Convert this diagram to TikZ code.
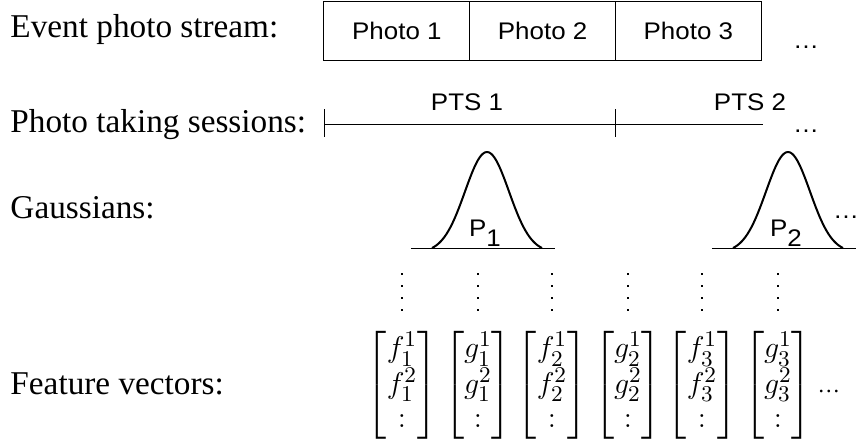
\documentclass[tikz,border=0pt]{standalone}
\usepackage{amsmath}
\usepackage[no-math]{fontspec}
\setmainfont{Liberation Serif}
\newfontfamily\boxfont[FakeStretch=1.08]{Liberation Sans}
\usetikzlibrary{positioning}

\tikzset{
  rowname/.style={anchor=base west, inner sep=0pt, font=\fontsize{13.3}{16}\selectfont},
  sanstext/.style={inner sep=0pt, font=\fontsize{9.6}{11}\boxfont},
  photobox/.style={draw, sanstext, outer sep=0pt, minimum width=58.3pt, minimum height=23.6pt},
  bell/.style={line width=0.8pt, line join=round},
  dotline/.style={line width=0.55pt, dash pattern=on 0.6pt off 4.2pt},
  vec/.style={inner sep=0pt, font=\fontsize{13}{13.6}\selectfont},
}

\begin{document}
\begin{tikzpicture}[x=0.4pt, y=-0.4pt]

  \useasboundingbox (0,0) rectangle (863,447);

  % Row names
  \node[rowname] (nstream)  at (10,37)  {Event photo stream:};
  \node[rowname] (nsession) at (10,132) {Photo taking sessions:};
  \node[rowname] (ngauss)   at (10,218) {Gaussians:};
  \node[rowname] (nfeature) at (10,394) {Feature vectors:};

  % Photo stream
  \node[photobox, anchor=north west] (ph1) at (324,1) {Photo 1};
  \node[photobox, right=0pt of ph1] (ph2) {Photo 2};
  \node[photobox, right=0pt of ph2] (ph3) {Photo 3};
  \node[sanstext, anchor=base] (dstream) at (806,48) {\dots};

  % Sessions
  \coordinate (s0) at (325,124);
  \coordinate (s1) at (616,124);
  \coordinate (s2) at (763,124);
  \draw (s0) -- (s2);
  \draw ([yshift=6pt]s0) -- ([yshift=-5.2pt]s0);
  \draw ([yshift=6pt]s1) -- ([yshift=-5.2pt]s1);
  \node[sanstext, anchor=base] (pts1) at (467,110) {PTS 1};
  \node[sanstext, anchor=base] (pts2) at (750,110) {PTS 2};
  \node[sanstext, anchor=base] (dsession) at (806,132) {\dots};

  % Gaussians
  \foreach \c [count=\i] in {487,788} {
    \draw (\c-76,248) -- (\c+68,248);
    \draw[bell] plot[domain=-55:55, samples=61, smooth]
      ({\c+\x}, {248-96*(exp(-\x*\x/968)-0.044)/0.956});
    \node[sanstext, anchor=base] (p\i) at (\c-2,236) {P\raisebox{-4pt}{\i}};
  }
  \node[sanstext, anchor=base] (dgauss) at (846,218) {\dots};

  % Feature vectors
  \setlength{\arraycolsep}{1pt}
  \foreach \xv/\l/\k [count=\i] in {402/f/1,478/g/1,552/f/2,628/g/2,702/f/3,778/g/3} {
    \node[vec] (v\i) at (\xv,385)
      {$\begin{bmatrix} \l_{\k}^{1}\\ \l_{\k}^{2}\\ : \end{bmatrix}$};
    \draw[dotline] (\xv,273) -- ([yshift=7.2pt]v\i.north);
  }
  \node[anchor=base, inner sep=0pt, font=\fontsize{9}{10}\selectfont] (dfeature) at (829,392) {\dots};

\end{tikzpicture}
\end{document}
